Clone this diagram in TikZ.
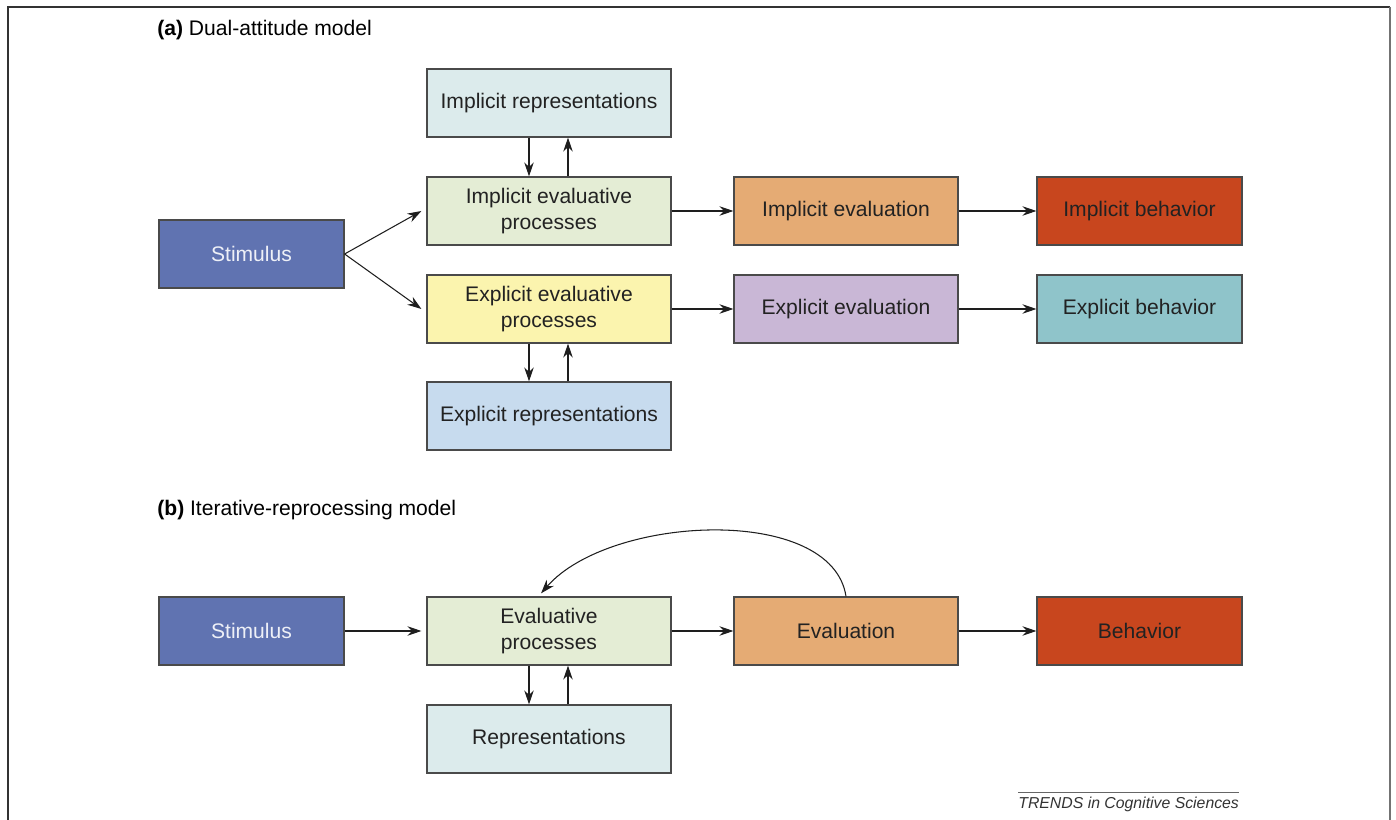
\documentclass[tikz,border=0pt]{standalone}
\usepackage{fontspec}
\setmainfont{Liberation Sans}
\usepackage{xcolor}
\usetikzlibrary{arrows.meta}

\definecolor{stimblue}{HTML}{6073B1}
\definecolor{stimtext}{HTML}{EEF0F7}
\definecolor{repteal}{HTML}{DCEBEC}
\definecolor{procgreen}{HTML}{E4EDD5}
\definecolor{evalorange}{HTML}{E5AB74}
\definecolor{behred}{HTML}{C8461E}
\definecolor{procyellow}{HTML}{FBF4AE}
\definecolor{evallilac}{HTML}{C9B7D6}
\definecolor{behteal}{HTML}{8FC4CA}
\definecolor{repblue}{HTML}{C7DBEE}
\definecolor{boxline}{HTML}{4A4A4A}
\definecolor{textdark}{HTML}{222222}
\definecolor{arrowdark}{HTML}{1E1E1E}

\begin{document}
\begin{tikzpicture}[x=0.02cm, y=-0.02cm,
  every node/.style={font=\fontsize{12}{14.4}\selectfont},
  box/.style={draw=boxline, line width=0.7pt, minimum height=1.36cm, inner sep=2pt, align=center, text=textdark},
  procbox/.style={box, minimum width=4.88cm},
  evalbox/.style={box, minimum width=4.48cm},
  behbox/.style={box, minimum width=4.1cm},
  stimbox/.style={box, minimum width=3.7cm, fill=stimblue, text=stimtext},
  arr/.style={draw=arrowdark, line width=0.6pt, -{Stealth[length=0.28cm, width=0.19cm]}}]
  \useasboundingbox (0,0) rectangle (1396,820);
  % Frame
  \draw[black!80, line width=0.8pt] (8,824) -- (8,7) -- (1390,7);
  \draw[black!55, line width=1.5pt] (1390,7) -- (1390,824);

  % (a) Dual-attitude model
  \node[anchor=base west, inner sep=0] (titleA) at (157,36) {\textbf{(a)} Dual-attitude model};
  \node[stimbox] (stimA) at (251.5,254) {Stimulus};
  \node[procbox, fill=repteal] (irep) at (549,103) {Implicit representations};
  \node[procbox, fill=procgreen] (iproc) at (549,211) {Implicit evaluative\\processes};
  \node[procbox, fill=procyellow] (eproc) at (549,309) {Explicit evaluative\\processes};
  \node[procbox, fill=repblue] (erep) at (549,416) {Explicit representations};
  \node[evalbox, fill=evalorange] (ieval) at (846,211) {Implicit evaluation};
  \node[evalbox, fill=evallilac] (eeval) at (846,309) {Explicit evaluation};
  \node[behbox, fill=behred] (ibeh) at (1139.5,211) {Implicit behavior};
  \node[behbox, fill=behteal] (ebeh) at (1139.5,309) {Explicit behavior};

  \draw[arr] (stimA.east) -- ([xshift=-0.1cm]iproc.west);
  \draw[arr] (stimA.east) -- ([xshift=-0.1cm]eproc.west);
  \draw[arr] ([xshift=-0.4cm]irep.south) -- ([xshift=-0.4cm]iproc.north);
  \draw[arr] ([xshift=0.38cm]iproc.north) -- ([xshift=0.38cm]irep.south);
  \draw[arr] ([xshift=-0.4cm]eproc.south) -- ([xshift=-0.4cm]erep.north);
  \draw[arr] ([xshift=0.38cm]erep.north) -- ([xshift=0.38cm]eproc.south);
  \draw[arr] (iproc.east) -- (ieval.west);
  \draw[arr] (eproc.east) -- (eeval.west);
  \draw[arr] (ieval.east) -- (ibeh.west);
  \draw[arr] (eeval.east) -- (ebeh.west);

  % (b) Iterative-reprocessing model
  \node[anchor=base west, inner sep=0] (titleB) at (157,516) {\textbf{(b)} Iterative-reprocessing model};
  \node[stimbox] (stimB) at (251.5,631) {Stimulus};
  \node[procbox, fill=procgreen] (proc) at (549,631) {Evaluative\\processes};
  \node[procbox, fill=repteal] (rep) at (549,739) {Representations};
  \node[evalbox, fill=evalorange] (eval) at (846,631) {Evaluation};
  \node[behbox, fill=behred] (beh) at (1139.5,631) {Behavior};

  \draw[arr] (stimB.east) -- ([xshift=-0.1cm]proc.west);
  \draw[arr] ([xshift=-0.4cm]proc.south) -- ([xshift=-0.4cm]rep.north);
  \draw[arr] ([xshift=0.38cm]rep.north) -- ([xshift=0.38cm]proc.south);
  \draw[arr] (proc.east) -- (eval.west);
  \draw[arr] (eval.east) -- (beh.west);
  % feedback loop back into the evaluative processes
  \draw[arr] (eval.north) .. controls +(-14,-92) and +(69,-79) .. ([shift={(-8,-3)}]proc.north);

  % journal tag
  \coordinate (ruleL) at (1018,792);
  \coordinate (ruleR) at (1239,792);
  \draw[black!60, line width=0.5pt] (ruleL) -- (ruleR);
  \node[anchor=base west, inner sep=0, text=black!80, font=\fontsize{9}{10.8}\selectfont\itshape] (journal) at (1018,808) {TRENDS in Cognitive Sciences};
\end{tikzpicture}
\end{document}
